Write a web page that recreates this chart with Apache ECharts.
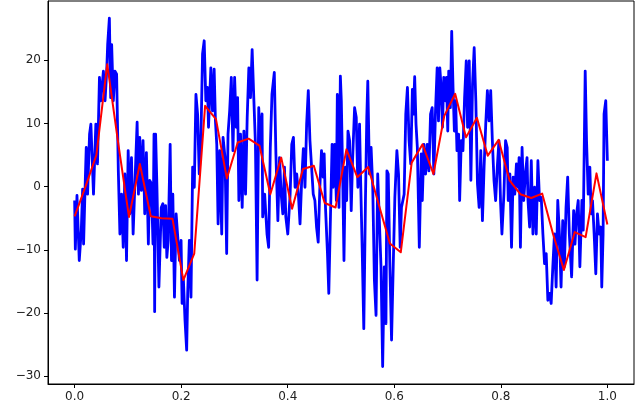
<!DOCTYPE html>
<html>
<head>
<meta charset="utf-8">
<script src="https://cdn.jsdelivr.net/npm/echarts@6/dist/echarts.min.js"></script>
<style>html,body{margin:0;padding:0;background:#fff}#c{width:640px;height:410px}</style>
</head>
<body>
<div id="c"></div>
<script>
var xTicks = [0, 0.2, 0.4, 0.6, 0.8, 1.0];
var yTicks = [-30, -20, -10, 0, 10, 20];

var blueX = [
0.000,0.0013,0.0044,0.0087,0.0125,0.015,0.0168,0.020,0.0218,0.0243,0.028,0.0305,0.0354,0.0398,0.0429,0.0466,0.049,0.054,0.0571,0.0602,
0.062,0.0652,0.0677,0.0695,0.0726,0.0757,0.0788,0.082,0.085,0.0881,0.0912,0.0943,0.0974,0.1005,0.1036,0.1067,0.1098,0.1129,0.1173,0.1198,
0.1222,0.1253,0.1284,0.1316,0.1347,0.1384,0.1409,0.1440,0.1471,0.149,0.1502,
0.152,0.1545,0.1582,0.1626,0.1657,0.1682,0.1707,0.1731,0.1756,0.1793,0.1818,0.1843,0.1874,0.1905,0.1936,0.1967,0.1998,0.2017,0.2042,0.2072,
0.2103,0.2122,0.2153,0.2184,0.2215,0.2246,0.2277,0.2308,0.2339,0.2370,0.2401,0.2432,0.2463,0.2494,0.2513,0.2557,0.2588,0.2619,0.2643,0.2668,
0.2693,0.2724,0.2761,0.2786,0.2823,0.2854,0.2879,0.291,0.2941,0.2972,0.3003,0.3034,0.3059,0.3083,0.3114,0.3145,0.3177,
0.3208,0.3239,0.327,0.3301,0.3332,0.3363,0.3394,0.3425,0.3456,0.3487,0.3518,0.353,0.3567,0.3611,0.3642,0.3673,0.3704,0.3748,0.3778,0.3815,
0.3846,0.3877,0.3908,0.3939,0.3964,0.4001,0.4045,0.4076,0.4107,0.4138,0.4169,0.42,0.4231,0.4262,0.4293,0.4324,0.4355,0.4386,0.4417,0.4448,
0.4479,0.451,0.4541,0.4572,0.4603,0.4634,0.4665,0.4684,0.4709,0.4746,0.4771,0.4802,0.4833,0.4852,
0.4882,0.4913,0.4931,0.4962,0.4988,0.5006,0.5031,0.5056,0.5081,0.5106,0.5131,0.5161,0.5192,0.5217,0.5255,0.5286,0.5317,0.5348,0.5366,0.5397,
0.5428,0.5459,0.5484,0.5503,0.5534,0.5565,0.5596,0.5627,0.5658,0.5689,0.572,0.5751,0.5782,0.5813,0.5844,0.5862,0.5887,0.5918,0.5949,0.598,
0.6011,0.6049,0.608,0.6111,0.6135,0.6185,0.6216,0.6247,0.6278,0.6309,0.634,0.6358,0.6383,0.6408,0.6433,0.647,
0.6507,0.6526,0.6557,0.6588,0.6619,0.665,0.6681,0.6712,0.6743,0.6774,0.6805,0.683,0.6855,0.688,0.6905,0.6929,0.696,0.6979,0.7004,0.7022,
0.7053,0.7078,0.7103,0.7128,0.7152,0.7177,0.7208,0.7227,0.7258,0.7289,0.732,0.7351,0.7376,0.7407,0.7438,0.7469,0.75,0.7531,0.7562,0.7593,
0.7624,0.7655,0.7686,0.7717,0.7748,0.7779,0.781,0.7841,0.7872,0.7903,0.7934,0.7965,0.7996,0.8021,0.8058,0.8089,0.812,0.8139,0.817,0.8201,
0.8231,0.8262,0.8293,0.8324,0.8343,0.8368,0.8399,0.843,0.8461,0.8492,0.851,0.8541,0.8572,0.8603,0.8634,0.8665,0.8696,0.8727,0.8759,0.879,
0.8821,0.8852,0.8883,0.8914,0.8945,0.8976,0.9007,0.9038,0.9069,0.91,0.9131,0.9162,0.9193,0.9224,0.9255,0.9286,0.9329,0.9367,0.9392,0.9423,
0.9453,0.9484,0.9522,0.9547,0.9584,0.9609,0.964,0.9671,0.9696,0.9721,0.9752,0.9783,0.9814,0.9845,0.9876,0.9895,0.992,0.9938,0.997,1.0
];
var blueY = [
-2.2,-9.9,-1.4,-11.7,-6.9,-0.4,-9.1,1.0,6.2,-1.2,8.3,9.9,-1.2,9.9,3.6,17.3,13.6,18.3,13.6,18.3,
22.5,26.7,14.1,22.5,13.6,18.3,17.8,2.5,-7.5,-1.2,-9.6,2.0,-11.7,5.7,-4.3,4.6,-7.5,-0.1,10.2,-1.2,
7.8,-0.6,7.3,-4.3,5.4,-9.1,1.0,0.5,-9.1,8.3,-19.8,
8.3,-0.1,-15.9,-3.3,-2.7,-9.6,-3.0,-11.2,-8.5,6.7,-11.7,-1.2,-17.5,-4.3,-8.0,-11.7,-8.5,-18.5,-14.8,-21.2,
-25.9,-17.0,-8.5,-17.5,3.1,-0.1,14.6,11.5,2.0,7.3,21.0,23.1,13.6,15.7,9.4,18.8,12.0,18.6,10.4,6.7,
-5.9,5.7,-7.5,7.8,4.6,-10.6,8.3,12.0,17.3,5.7,17.3,9.4,14.1,-2.2,8.3,-3.3,8.8,
-1.2,10.9,18.8,14.1,21.7,14.1,6.7,-14.8,12.5,6.2,11.5,-4.8,-1.2,-7.5,-9.6,6.2,14.6,18.1,5.2,-5.4,
4.6,-1.2,-4.3,3.1,-4.8,-7.5,-1.2,6.7,7.8,-0.1,2.0,-1.2,-5.9,1.0,6.0,-0.1,9.9,15.2,7.3,3.1,
-1.2,-2.2,-6.4,-8.8,-0.1,5.7,1.5,5.2,-3.3,-10.6,-16.9,-4.8,6.7,-0.1,
6.7,-2.2,14.6,-3.3,17.5,13.6,2.0,-11.7,3.1,-2.2,8.8,7.3,-3.8,4.1,12.5,11.0,-0.1,9.9,2.0,-9.6,
-22.5,-2.2,11.0,16.7,2.0,6.2,-0.1,-14.8,-20.4,2.0,2.0,-12.7,-28.5,-12.7,-21.7,2.5,2.0,-12.7,-24.3,-12.7,
-1.7,5.7,2.0,-9.6,-3.3,-1.2,11.5,15.7,7.3,3.6,15.4,11.5,17.4,9.9,6.2,-9.6,
5.2,-2.2,6.7,2.0,6.7,2.5,11.5,12.5,2.0,12.0,18.8,10.4,18.8,15.7,9.4,17.3,13.6,17.3,8.8,18.3,
12.5,24.6,15.7,8.8,13.6,5.7,8.3,-2.2,7.3,5.7,14.1,19.9,9.4,19.9,1.0,16.2,22.0,13.6,0.4,-3.3,
5.7,-5.4,3.1,9.9,15.2,10.4,15.2,7.3,1.0,-2.2,3.1,7.3,-2.7,-7.5,-1.2,7.3,6.2,-2.2,2.0,-9.6,
1.5,-1.2,3.6,-0.1,4.6,-9.6,6.2,-2.2,2.0,4.6,-2.2,-6.4,4.1,-7.5,-0.1,-7.5,4.1,-2.2,-1.7,-7.5,
-12.2,-10.6,-18.0,-16.9,-18.5,-12.7,-7.5,-15.9,-2.2,-7.5,-15.9,-5.4,-12.7,-3.3,1.5,-7.5,-14.3,-3.8,-9.1,-4.3,
-2.2,-12.7,-2.2,-6.9,18.3,7.3,-1.2,3.1,-4.3,-2.2,-7.5,-13.8,-4.3,-7.5,-6.4,-15.9,-7.5,11.5,13.6,4.1
];

var redX = [0,0.0204,0.0408,0.0612,0.0816,0.1020,0.1224,0.1429,0.1633,0.1837,0.2041,0.2245,0.2449,0.2653,0.2857,0.3061,0.3265,0.3469,0.3673,0.3878,
0.4082,0.4286,0.4490,0.4694,0.4898,0.5102,0.5306,0.5510,0.5714,0.5918,0.6122,0.6327,0.6531,0.6735,0.6939,0.7143,0.7347,0.7551,0.7755,0.7959,
0.8163,0.8367,0.8571,0.8776,0.8980,0.9184,0.9388,0.9592,0.9796,1.0];
var redY = [-4.7,0,5,19.4,7,-4.8,3.6,-4.7,-5.0,-5.1,-14.8,-10.6,12.8,10.7,1.3,7,7.6,6.5,-1.2,4.6,
-3.5,2.8,3.3,-2.6,-3.3,5.9,1.5,3.1,-3,-9.0,-10.4,3.8,6.7,2.0,11.2,14.7,7.8,10.9,4.9,7.4,
1.0,-1.2,-1.8,-1.1,-7.5,-13.2,-7.2,-8.0,2.1,-6.0];

function pairs(xs, ys) { return xs.map(function (x, i) { return [x, ys[i]]; }); }
function minus(s) { return String(s).replace('-', '\u2212'); }

var chart = echarts.init(document.getElementById('c'), null, {renderer: 'canvas'});
chart.setOption({
  animation: false,
  backgroundColor: '#fff',
  grid: {left: 48, right: 6, top: 1, bottom: 26, show: true, borderColor: '#000', borderWidth: 1, outerBoundsMode: 'none'},
  xAxis: {
    type: 'value', min: -0.05, max: 1.05,
    splitLine: {show: false},
    axisLine: {show: true, onZero: false, lineStyle: {color: '#000', width: 1}},
    axisTick: {show: true, length: 4, lineStyle: {color: '#000'}, customValues: xTicks},
    axisLabel: {customValues: xTicks, color: '#222', fontSize: 12, fontFamily: 'DejaVu Sans', margin: 7,
      formatter: function (v) { return v.toFixed(1); }}
  },
  yAxis: {
    type: 'value', min: -31.26, max: 29.4,
    splitLine: {show: false},
    axisLine: {show: true, onZero: false, lineStyle: {color: '#000', width: 1}},
    axisTick: {show: true, length: 4, lineStyle: {color: '#000'}, customValues: yTicks},
    axisLabel: {customValues: yTicks, color: '#222', fontSize: 12, fontFamily: 'DejaVu Sans', margin: 7,
      formatter: function (v) { return minus(v); }}
  },
  series: [
    {type: 'line', data: pairs(blueX, blueY), showSymbol: false, lineStyle: {color: '#0000ff', width: 2.8, join: 'round'}, z: 2},
    {type: 'line', data: pairs(redX, redY), showSymbol: false, lineStyle: {color: '#ff0000', width: 2, join: 'round'}, z: 3}
  ]
});
</script>
</body>
</html>
